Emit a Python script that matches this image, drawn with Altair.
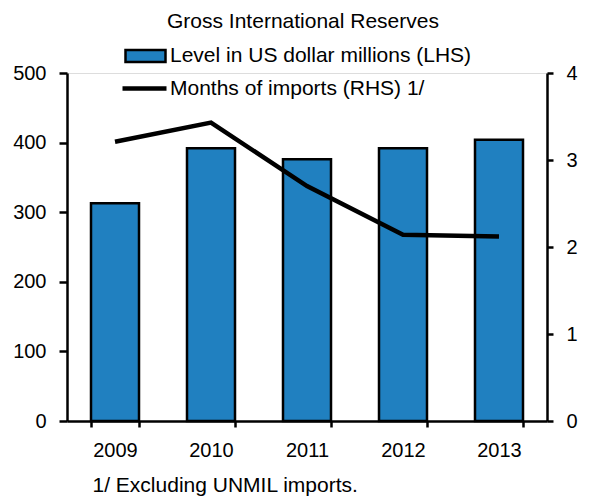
import altair as alt
import pandas as pd

years = ["2009", "2010", "2011", "2012", "2013"]
reserves = [313, 392, 376, 392, 404]
months_imports = [3.21, 3.43, 2.70, 2.14, 2.12]

bar_label = "Level in US dollar millions (LHS)"
line_label = "Months of imports (RHS) 1/"
footnote = "1/ Excluding UNMIL imports."
title_text = "Gross International Reserves"

FONT = "Liberation Sans"
BLUE = "#2080c0"

df = pd.DataFrame({
    "year": years,
    "reserves": reserves,
    "months": months_imports,
    "bar_series": [bar_label] * len(years),
    "line_series": [line_label] * len(years),
})

x_enc = alt.X(
    "year:N",
    scale=alt.Scale(paddingInner=0.5, paddingOuter=0.25),
    axis=alt.Axis(
        title=footnote,
        titleFont=FONT, titleFontSize=21, titleFontWeight="normal", titleColor="black",
        titleAnchor="start", titleAlign="left", titleX=25, titleY=64, titleBaseline="middle",
        labelAngle=0, labelFont=FONT, labelFontSize=20, labelColor="black", labelPadding=13,
        tickBand="extent", tickSize=6, tickWidth=2.5, tickColor="black",
        domainColor="black", domainWidth=2.5, grid=False,
    ),
)

bars = alt.Chart(df).mark_bar(stroke="black", strokeWidth=2.5).encode(
    x=x_enc,
    y=alt.Y(
        "reserves:Q",
        scale=alt.Scale(domain=[0, 500], nice=False),
        axis=alt.Axis(
            title=None, values=[0, 100, 200, 300, 400, 500], orient="left",
            labelFont=FONT, labelFontSize=20, labelColor="black", labelPadding=13,
            tickSize=8, tickWidth=2.5, tickColor="black",
            domainColor="black", domainWidth=2.5, grid=False,
        ),
    ),
    fill=alt.Fill(
        "bar_series:N",
        scale=alt.Scale(domain=[bar_label], range=[BLUE]),
        legend=alt.Legend(
            title=None, orient="none", legendX=57, legendY=-38.5, padding=0,
            symbolType="M-1,-0.3H1V0.3H-1Z", symbolSize=1600,
            symbolStrokeColor="black", symbolStrokeWidth=2.5, symbolOpacity=1,
            labelFont=FONT, labelFontSize=21, labelColor="black", labelOffset=3,
            labelLimit=400,
        ),
    ),
)

line = alt.Chart(df).mark_line(strokeWidth=4.5).encode(
    x=alt.X("year:N"),
    y=alt.Y(
        "months:Q",
        scale=alt.Scale(domain=[0, 4], nice=False),
        axis=alt.Axis(
            title=None, values=[0, 1, 2, 3, 4], orient="right",
            labelFont=FONT, labelFontSize=20, labelColor="black", labelPadding=13,
            tickSize=6, tickWidth=2.5, tickColor="black",
            domainColor="black", domainWidth=2.5, grid=False,
        ),
    ),
    stroke=alt.Stroke(
        "line_series:N",
        scale=alt.Scale(domain=[line_label], range=["black"]),
        legend=alt.Legend(
            title=None, orient="none", legendX=53, legendY=-9, padding=0,
            symbolType="stroke", symbolSize=1936, symbolStrokeWidth=4.5,
            labelFont=FONT, labelFontSize=21, labelColor="black", labelOffset=1,
            labelLimit=400,
        ),
    ),
)

chart = alt.layer(bars, line).resolve_scale(y="independent").properties(
    width=480,
    height=348,
    title=alt.Title(
        title_text, font=FONT, fontSize=21, fontWeight="normal", color="black",
        anchor="middle", frame="group", offset=-14, dx=-4, baseline="alphabetic",
    ),
    autosize=alt.AutoSizeParams(type="none"),
    padding={"left": 67, "top": 73, "right": 50, "bottom": 77},
).configure_view(stroke=None).configure(background="white")

chart.save("out.html", embed_options={"renderer": "svg", "actions": False})
